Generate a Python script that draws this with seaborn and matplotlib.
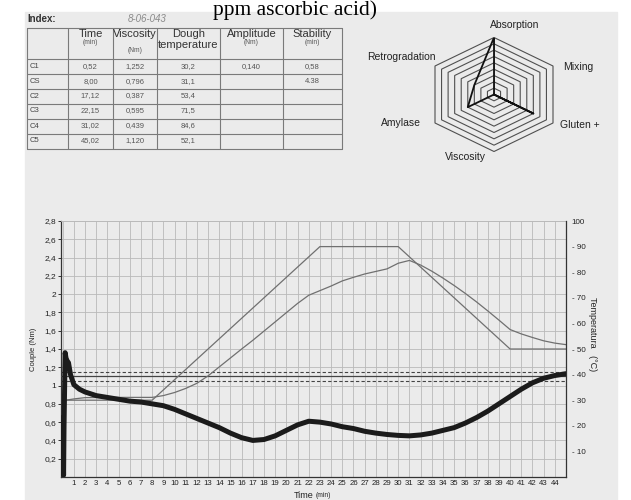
import numpy as np
import pandas as pd
import matplotlib
matplotlib.use("Agg")
import matplotlib.pyplot as plt
import seaborn as sns
from matplotlib.patches import Rectangle

# ---------------- data ----------------
torque_time = [0.0, 0.08, 0.12, 0.22, 0.3, 0.4, 0.52, 0.7, 1.0, 1.5, 2, 2.5, 3, 4, 5, 6, 7, 8,
               9, 10, 11, 12, 13, 14, 15, 16, 17, 18, 19, 20, 21, 22, 23, 24, 25, 26, 27, 28,
               29, 30, 31, 32, 33, 34, 35, 36, 37, 38, 39, 40, 41, 42, 43, 44, 45]
torque_nm = [0.65, 0.02, 0.55, 1.36, 1.30, 1.27, 1.25, 1.12, 1.01, 0.96, 0.93, 0.91, 0.89, 0.87,
             0.85, 0.83, 0.82, 0.80, 0.78, 0.74, 0.69, 0.64, 0.59, 0.54, 0.48, 0.43, 0.40, 0.41,
             0.45, 0.51, 0.57, 0.61, 0.60, 0.58, 0.55, 0.53, 0.50, 0.48, 0.465, 0.455, 0.45,
             0.46, 0.48, 0.51, 0.54, 0.59, 0.65, 0.72, 0.80, 0.88, 0.96, 1.03, 1.08, 1.11, 1.13]

profile_time = [0, 8, 23, 30, 40, 45]
profile_temp = [30, 30, 90, 90, 50, 50]

dough_time = [0, 1, 2, 4, 6, 8, 9, 10, 11, 12, 13, 14, 15, 16, 17, 18, 19, 20, 21, 22, 23,
              24, 25, 26, 27, 28, 29, 30, 31, 32, 33, 34, 35, 36, 37, 38, 39, 40, 41, 42, 43, 44, 45]
dough_temp = [29.8, 30.5, 31.0, 31.1, 31.1, 31.1, 31.8, 33.0, 34.6, 36.6, 39.5, 43.0, 46.5, 50.0,
              53.4, 57.0, 60.6, 64.2, 67.8, 71.0, 72.8, 74.6, 76.6, 78.0, 79.3, 80.3, 81.3, 83.5,
              84.6, 82.8, 80.4, 77.7, 74.8, 71.7, 68.4, 64.9, 61.3, 57.6, 55.9, 54.5, 53.2, 52.3, 51.7]

target_torque = 1.10
target_tol = 0.05

table_rows = ["C1", "CS", "C2", "C3", "C4", "C5"]
table_time = ["0,52", "8,00", "17,12", "22,15", "31,02", "45,02"]
table_visc = ["1,252", "0,796", "0,387", "0,595", "0,439", "1,120"]
table_dtemp = ["30,2", "31,1", "53,4", "71,5", "84,6", "52,1"]
table_ampl = ["0,140", "", "", "", "", ""]
table_stab = ["0,58", "4.38", "", "", "", ""]
col_headers = ["Time", "Viscosity", "Dough\ntemperature", "Amplitude", "Stability"]
col_units = ["(min)", "(Nm)", "", "(Nm)", "(min)"]

radar_axes = ["Absorption", "Mixing", "Gluten +", "Viscosity", "Amylase", "Retrogradation"]
radar_values = [9, 0, 6, 0, 4, 3]
radar_max = 9

x_ticks = list(range(1, 45))
y_ticks = [0.2, 0.4, 0.6, 0.8, 1.0, 1.2, 1.4, 1.6, 1.8, 2.0, 2.2, 2.4, 2.6, 2.8]
temp_ticks = [10, 20, 30, 40, 50, 60, 70, 80, 90, 100]

# ---------------- style ----------------
sns.set_style("white")
plt.rcParams['font.family'] = ['Liberation Sans', 'DejaVu Sans']

W, H = 631, 500
BG = '#ebebeb'
fig = plt.figure(figsize=(W / 100, H / 100), dpi=100)
fig.patch.set_facecolor('white')

# overlay in pixel coordinates
ov = fig.add_axes([0, 0, 1, 1], zorder=0)
ov.set_xlim(0, W)
ov.set_ylim(H, 0)
ov.axis('off')
ov.add_patch(Rectangle((25, 12), 592, 488, color=BG, zorder=0))

ov.text(213, 15, "ppm ascorbic acid)", family='Liberation Serif', fontsize=15.5,
        va='baseline', ha='left', color='black')

# ---- table ----
tc = '#333333'
ov.text(27, 19, "Index:", fontsize=7, fontweight='bold', color=tc, va='center', ha='left')
ov.text(128, 19, "8-06-043", fontsize=7, style='italic', color='#8a8a8a', va='center', ha='left')

col_x = [27, 68, 113, 157, 220, 283, 342]
row_y = [28, 58.5, 74, 88.5, 103.5, 118.5, 133.5, 148.5]
lc = '#7a7a7a'
for x in col_x:
    ov.plot([x, x], [row_y[0], row_y[-1]], color=lc, lw=0.8)
for y in row_y:
    ov.plot([col_x[0], col_x[-1]], [y, y], color=lc, lw=0.8)

for i, (hdr, unit) in enumerate(zip(col_headers, col_units)):
    cx = (col_x[i + 1] + col_x[i + 2]) / 2
    if "\n" in hdr:
        a, b = hdr.split("\n")
        ov.text(cx, 34, a, fontsize=8, color=tc, ha='center', va='center')
        ov.text(cx, 45, b, fontsize=8, color=tc, ha='center', va='center')
    else:
        ov.text(cx, 34, hdr, fontsize=8, color=tc, ha='center', va='center')
    if unit:
        uy = 50.5 if hdr == "Viscosity" else 42.5
        ov.text(cx, uy, unit, fontsize=4.8, color='#555555', ha='center', va='center')

columns = [table_time, table_visc, table_dtemp, table_ampl, table_stab]
for r, name in enumerate(table_rows):
    cy = (row_y[r + 1] + row_y[r + 2]) / 2
    ov.text(30, cy, name, fontsize=5.5, color='#444444', ha='left', va='center')
    for c, col in enumerate(columns):
        cx = (col_x[c + 1] + col_x[c + 2]) / 2
        ov.text(cx, cy, col[r], fontsize=5.5, color='#555555', ha='center', va='center')

# ---- radar ----
rad = fig.add_axes([435 / W, 1 - 151.5 / H, 118 / W, 114 / H], zorder=1)
rad.set_xlim(-0.866, 0.866)
rad.set_ylim(-1, 1)
rad.axis('off')
angles = np.deg2rad(np.arange(0, 360, 60))
for k in range(1, radar_max + 1):
    rr = k / radar_max
    xs = np.append(np.sin(angles) * rr, np.sin(angles[0]) * rr)
    ys = np.append(np.cos(angles) * rr, np.cos(angles[0]) * rr)
    rad.plot(xs, ys, color='#505050', lw=0.8, clip_on=False)
rad.plot([0, 0], [0, 1], color='#505050', lw=0.6)
vals = np.array(radar_values + radar_values[:1], dtype=float) / radar_max
ang = np.append(angles, angles[0])
poly = pd.DataFrame({"x": np.sin(ang) * vals, "y": np.cos(ang) * vals})
sns.lineplot(data=poly, x="x", y="y", sort=False, ax=rad, color='#111111', lw=1.3,
             estimator=None)
rad.set_xlabel("")
rad.set_ylabel("")

lab_pos = [(515, 25, 'center'), (563, 67, 'left'), (560, 125, 'left'),
           (465, 157, 'center'), (421, 123, 'right'), (436, 57, 'right')]
for name, (x, y, ha) in zip(radar_axes, lab_pos):
    ov.text(x, y, name, fontsize=7.5, color='#222222', ha=ha, va='center')

# ---- main chart ----
ax = fig.add_axes([61 / W, 1 - 477 / H, 505 / W, 256 / H], zorder=2)
ax.set_facecolor('none')
ax.set_xlim(-0.15, 44.95)
ax.set_ylim(0, 2.8)
ax.set_xticks(x_ticks)
ax.set_xticklabels([str(t) for t in x_ticks], fontsize=5.6, color='#222222')
ax.set_xticks(range(0, 46), minor=True)
ax.set_yticks(y_ticks)
ax.set_yticklabels([f"{v:g}".replace('.', ',') for v in y_ticks], fontsize=6, color='#222222')
ax.tick_params(axis='x', which='both', length=0, pad=2)
ax.tick_params(axis='y', length=2.5, width=0.7, pad=1, color='#333333')
ax.grid(True, which='both', axis='x', color='#b9b9b9', lw=0.6)
ax.grid(True, which='major', axis='y', color='#b9b9b9', lw=0.6)
ax.set_axisbelow(True)
for s in ['left', 'bottom']:
    ax.spines[s].set_color('#333333')
    ax.spines[s].set_linewidth(0.9)
ax.spines['top'].set_color('#b9b9b9')
ax.spines['top'].set_linewidth(0.6)
ax.spines['right'].set_visible(False)

ax.axhline(target_torque, color='#444444', lw=0.9, zorder=3)
ax.axhline(target_torque + target_tol, color='#444444', lw=0.8, ls=(0, (3, 2)), zorder=3)
ax.axhline(target_torque - target_tol, color='#444444', lw=0.8, ls=(0, (3, 2)), zorder=3)

ax.set_ylabel("Couple (Nm)", fontsize=5.5, color='#222222')
ax.yaxis.set_label_coords((37 - 61) / 505, 0.5)
ax.set_xlabel("")

ax2 = ax.twinx()
ax2.set_ylim(0, 100)
ax2.set_yticks(temp_ticks)
ax2.set_yticklabels(["100" if v == 100 else f"- {v}" for v in temp_ticks],
                    fontsize=5.8, color='#222222')
ax2.tick_params(axis='y', length=0, pad=4)
ax2.spines['right'].set_color('#333333')
ax2.spines['right'].set_linewidth(0.9)
for s in ['left', 'top', 'bottom']:
    ax2.spines[s].set_visible(False)

sns.lineplot(x=profile_time, y=profile_temp, ax=ax2, color='#707070', lw=0.9, estimator=None)
sns.lineplot(x=dough_time, y=dough_temp, ax=ax2, color='#707070', lw=0.9, estimator=None)
ax2.set_ylabel("Temperatura   (°C)", rotation=270, fontsize=6.5, color='#222222')
ax2.yaxis.set_label_coords((597 - 61) / 505, 0.56)

# torque on left axis, drawn above temperature lines
ax3 = ax.twinx()
ax3.set_ylim(0, 2.8)
ax3.axis('off')
sns.lineplot(x=torque_time, y=torque_nm, ax=ax3, color='#1b1b1b', lw=3.6, estimator=None,
             sort=False)
ax3.set_xlim(ax.get_xlim())

ov.text(313, 495, "Time", fontsize=6.5, color='#222222', ha='right', va='center')
ov.text(316, 495.5, "(min)", fontsize=4.8, color='#222222', ha='left', va='center')

fig.savefig("out.png", dpi=100, facecolor='white')
